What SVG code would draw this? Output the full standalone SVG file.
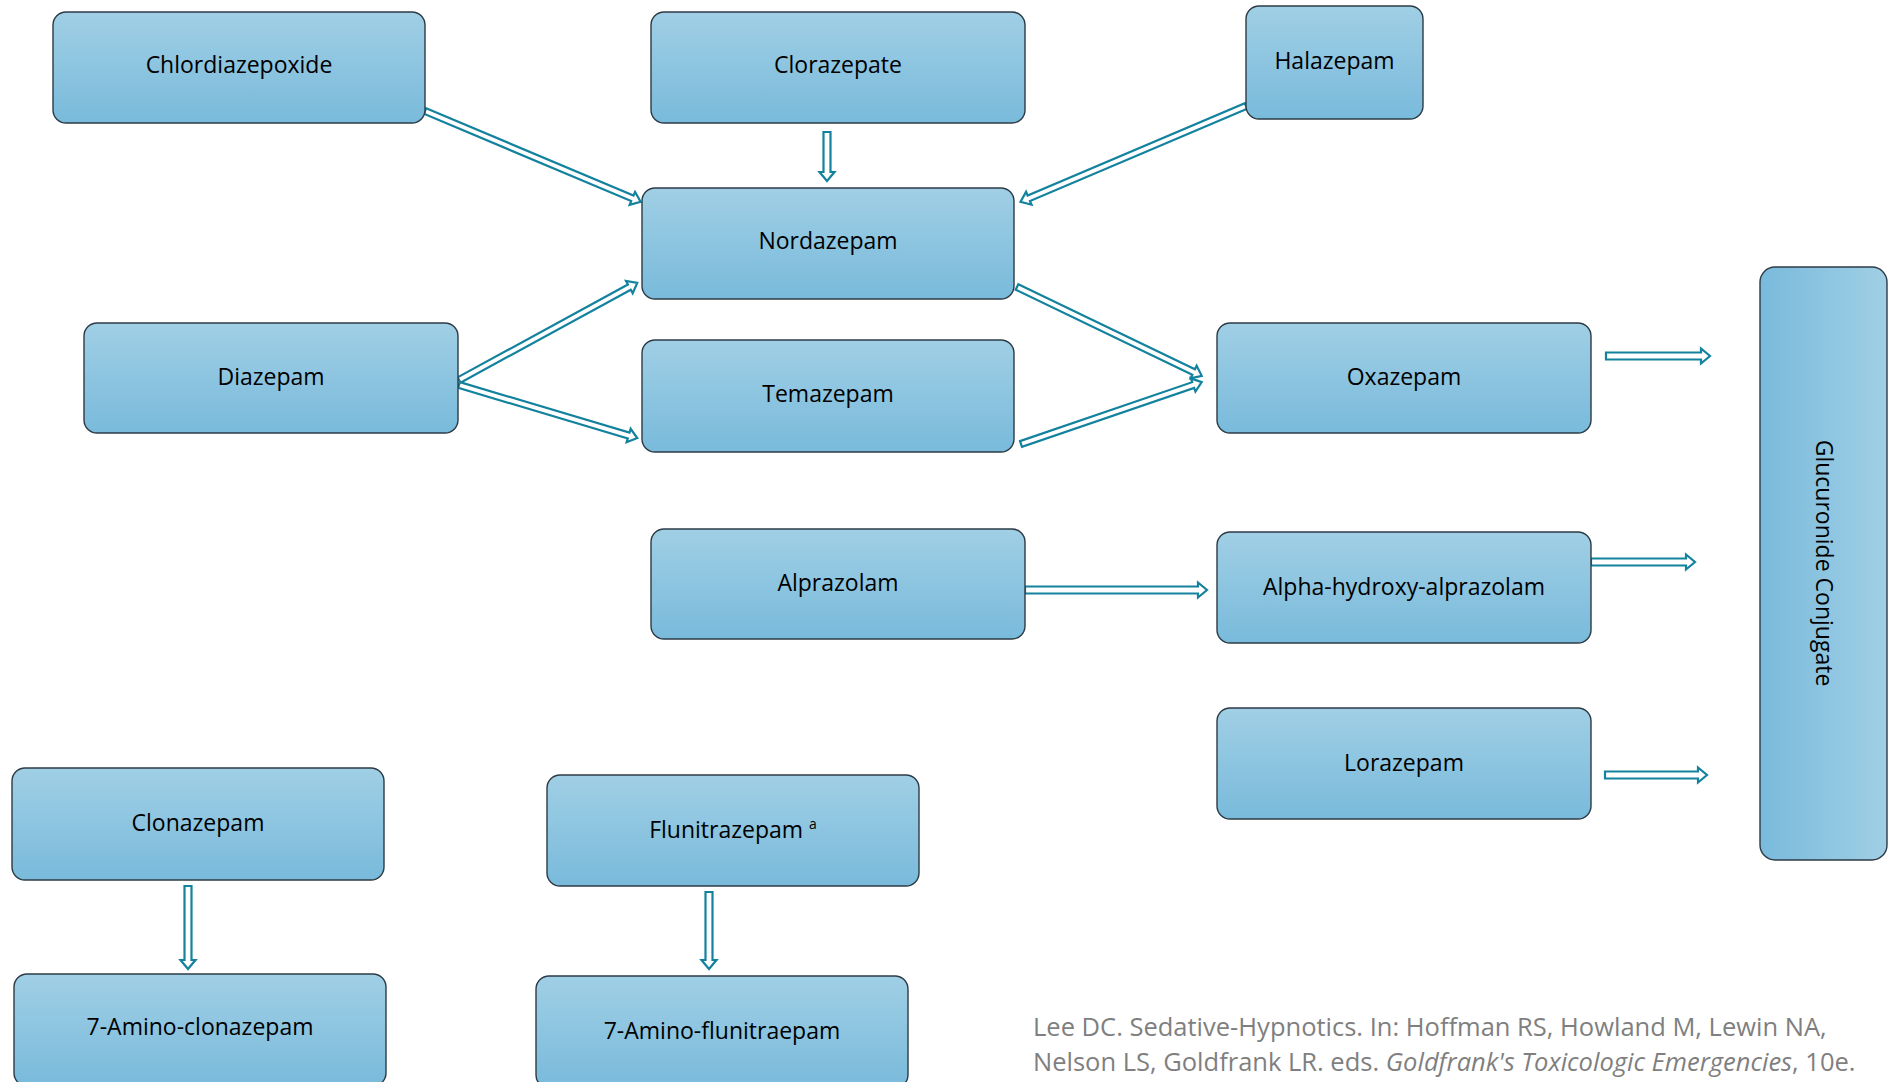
<svg xmlns="http://www.w3.org/2000/svg" width="1888" height="1082" viewBox="0 0 1888 1082">
<defs>
<linearGradient id="gv" x1="0" y1="0" x2="0" y2="1">
<stop offset="0" stop-color="#a0cfe5"/>
<stop offset="1" stop-color="#79badb"/>
</linearGradient>
<linearGradient id="gh" x1="1" y1="0" x2="0" y2="0">
<stop offset="0" stop-color="#a0cfe5"/>
<stop offset="1" stop-color="#79badb"/>
</linearGradient>
<style>
.box{fill:url(#gv);stroke:#2c3b45;stroke-width:1.4}
.boxh{fill:url(#gh);stroke:#2c3b45;stroke-width:1.4}
.lbl{font-family:"Open Sans","Noto Sans","DejaVu Sans",sans-serif;font-size:23px;fill:#000;text-anchor:middle}
.arr{fill:#fff;stroke:#13829e;stroke-width:2.2;stroke-linejoin:miter}
.cite{font-family:"Open Sans","Noto Sans","DejaVu Sans",sans-serif;font-size:25.5px;fill:#7f7f7f}
</style>
</defs>
<rect width="1888" height="1082" fill="#fff"/>

<g id="connectors">
<g transform="translate(425,111) rotate(22.84)"><path class="arr" d="M0,-3 H225 V-7 L234,0 L225,7 V3 H0 Z"/></g>
<g transform="translate(827,132) rotate(90)"><path class="arr" d="M0,-3.5 H40 V-7.5 L49,0 L40,7.5 V3.5 H0 Z"/></g>
<g transform="translate(1246,106) rotate(156.98)"><path class="arr" d="M0,-3 H236 V-7 L245,0 L236,7 V3 H0 Z"/></g>
<g transform="translate(459,380) rotate(-28.59)"><path class="arr" d="M0,-3 H194 V-7 L203,0 L194,7 V3 H0 Z"/></g>
<g transform="translate(459,385) rotate(16.58)"><path class="arr" d="M0,-3 H177 V-7 L186,0 L177,7 V3 H0 Z"/></g>
<g transform="translate(1017,287) rotate(25.69)"><path class="arr" d="M0,-3 H196 V-7 L205,0 L196,7 V3 H0 Z"/></g>
<g transform="translate(1021,444) rotate(-18.91)"><path class="arr" d="M0,-3 H182 V-7 L191,0 L182,7 V3 H0 Z"/></g>
<g transform="translate(1025,590)"><path class="arr" d="M0,-3.5 H173 V-7.5 L182,0 L173,7.5 V3.5 H0 Z"/></g>
<g transform="translate(1606,356)"><path class="arr" d="M0,-3.5 H95 V-7.5 L104,0 L95,7.5 V3.5 H0 Z"/></g>
<g transform="translate(1591,562)"><path class="arr" d="M0,-3.5 H95 V-7.5 L104,0 L95,7.5 V3.5 H0 Z"/></g>
<g transform="translate(1605,775)"><path class="arr" d="M0,-3.5 H93 V-7.5 L102,0 L93,7.5 V3.5 H0 Z"/></g>
<g transform="translate(188,886) rotate(90)"><path class="arr" d="M0,-3.5 H74 V-7.5 L83,0 L74,7.5 V3.5 H0 Z"/></g>
<g transform="translate(709,892) rotate(90)"><path class="arr" d="M0,-3.5 H68 V-7.5 L77,0 L68,7.5 V3.5 H0 Z"/></g>
</g>

<g id="chlordiazepoxide"><rect class="box" x="53" y="12" width="372" height="111" rx="13"/><text class="lbl" x="239" y="73">Chlordiazepoxide</text></g>
<g id="clorazepate"><rect class="box" x="651" y="12" width="374" height="111" rx="13"/><text class="lbl" x="838" y="73">Clorazepate</text></g>
<g id="halazepam"><rect class="box" x="1246" y="6" width="177" height="113" rx="13"/><text class="lbl" x="1334.5" y="69">Halazepam</text></g>
<g id="nordazepam"><rect class="box" x="642" y="188" width="372" height="111" rx="13"/><text class="lbl" x="828" y="249">Nordazepam</text></g>
<g id="diazepam"><rect class="box" x="84" y="323" width="374" height="110" rx="13"/><text class="lbl" x="271" y="385">Diazepam</text></g>
<g id="temazepam"><rect class="box" x="642" y="340" width="372" height="112" rx="13"/><text class="lbl" x="828" y="402">Temazepam</text></g>
<g id="oxazepam"><rect class="box" x="1217" y="323" width="374" height="110" rx="13"/><text class="lbl" x="1404" y="385">Oxazepam</text></g>
<g id="alprazolam"><rect class="box" x="651" y="529" width="374" height="110" rx="13"/><text class="lbl" x="838" y="591">Alprazolam</text></g>
<g id="alpha-hydroxy-alprazolam"><rect class="box" x="1217" y="532" width="374" height="111" rx="13"/><text class="lbl" x="1404" y="595">Alpha-hydroxy-alprazolam</text></g>
<g id="lorazepam"><rect class="box" x="1217" y="708" width="374" height="111" rx="13"/><text class="lbl" x="1404" y="771">Lorazepam</text></g>
<g id="glucuronide-conjugate"><rect class="boxh" x="1760" y="267" width="127" height="593" rx="15"/><text class="lbl" transform="translate(1816,563) rotate(90)">Glucuronide Conjugate</text></g>
<g id="clonazepam"><rect class="box" x="12" y="768" width="372" height="112" rx="13"/><text class="lbl" x="198" y="831">Clonazepam</text></g>
<g id="flunitrazepam"><rect class="box" x="547" y="775" width="372" height="111" rx="13"/><text class="lbl" x="733" y="838">Flunitrazepam <tspan style="font-size:14px" baseline-shift="super">a</tspan></text></g>
<g id="amino-clonazepam"><rect class="box" x="14" y="974" width="372" height="112" rx="13"/><text class="lbl" x="200" y="1035">7-Amino-clonazepam</text></g>
<g id="amino-flunitraepam"><rect class="box" x="536" y="976" width="372" height="112" rx="13"/><text class="lbl" x="722" y="1039">7-Amino-flunitraepam</text></g>

<g id="citation">
<text class="cite" x="1033" y="1036">Lee DC. Sedative-Hypnotics. In: Hoffman RS, Howland M, Lewin NA,</text>
<text class="cite" x="1033" y="1071">Nelson LS, Goldfrank LR. eds. <tspan font-style="italic">Goldfrank's Toxicologic Emergencies</tspan>, 10e.</text>
</g>
</svg>
